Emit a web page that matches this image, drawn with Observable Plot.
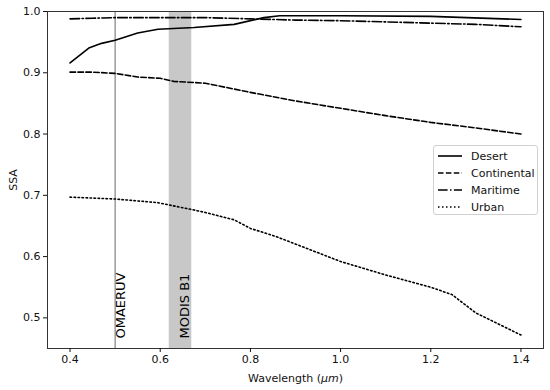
<!DOCTYPE html>
<html><head><meta charset="utf-8">
<script src="https://cdn.jsdelivr.net/npm/d3@7"></script>
<script src="https://cdn.jsdelivr.net/npm/@observablehq/plot@0.6"></script>
<style>
body{margin:0;background:#fff;font-family:"DejaVu Sans",sans-serif;}
#wrap{position:relative;width:550px;height:390px;}
#legend{position:absolute;left:433px;top:145px;width:103px;height:68px;border:1px solid #d0d0d0;border-radius:3px;background:#fff;font-size:11px;color:#111;}
#legend .row{position:absolute;left:4px;height:16px;display:flex;align-items:center;}
#legend svg{margin-right:9px;}
</style></head>
<body><div id="wrap"><div id="chart"></div><div id="legend"></div></div>
<script>
const desertX = [0.40,0.443,0.47,0.50,0.55,0.595,0.675,0.764,0.83,0.865,1.0,1.2,1.4];
const desertY = [0.916,0.941,0.948,0.953,0.965,0.971,0.974,0.979,0.990,0.993,0.993,0.992,0.987];
const contX = [0.40,0.45,0.50,0.55,0.60,0.63,0.675,0.70,0.80,0.90,1.0,1.1,1.2,1.3,1.4];
const contY = [0.901,0.901,0.899,0.893,0.891,0.886,0.884,0.883,0.868,0.854,0.842,0.830,0.819,0.810,0.800];
const marX = [0.40,0.45,0.50,0.60,0.70,0.80,0.90,1.0,1.1,1.2,1.3,1.4];
const marY = [0.988,0.989,0.990,0.990,0.990,0.988,0.986,0.985,0.983,0.981,0.979,0.975];
const urbX = [0.40,0.50,0.595,0.675,0.70,0.764,0.80,0.856,1.0,1.1,1.2,1.247,1.30,1.4];
const urbY = [0.697,0.694,0.688,0.676,0.672,0.660,0.646,0.633,0.592,0.570,0.550,0.538,0.508,0.472];
const seriesNames = ["Desert","Continental","Maritime","Urban"];
const dashes = [null,"5.5,2.4","9.6,2.4,1.5,2.4","1.5,2.5"];
const omaeruv = [0.5];
const modisBand = [{x1:0.62,x2:0.67}];
const xTicks = [0.4,0.6,0.8,1.0,1.2,1.4];
const yTicks = [0.5,0.6,0.7,0.8,0.9,1.0];

const seriesX = [desertX,contX,marX,urbX];
const seriesY = [desertY,contY,marY,urbY];
const toRows = i => seriesX[i].map((x,j)=>({x,y:seriesY[i][j]}));

const lineMarks = seriesNames.map((n,i)=>Plot.line(toRows(i),{x:"x",y:"y",stroke:"#000",strokeWidth:1.6,strokeDasharray:dashes[i]}));

const chart = Plot.plot({
  width:550,height:390,
  marginLeft:47,marginRight:7,marginTop:11,marginBottom:42,
  style:{fontFamily:"DejaVu Sans",fontSize:"11px",color:"#111",background:"#fff"},
  x:{domain:[0.35,1.45],ticks:xTicks,tickFormat:d3.format(".1f"),label:null},
  y:{domain:[0.45,1.0],ticks:yTicks,tickFormat:d3.format(".1f"),label:null},
  marks:[
    Plot.rectX(modisBand,{x1:"x1",x2:"x2",fill:"#c8c8c8"}),
    Plot.ruleX(omaeruv,{stroke:"#808080",strokeWidth:1.2}),
    ...lineMarks,
    Plot.text(omaeruv,{x:d=>d,text:()=>"OMAERUV",frameAnchor:"bottom",rotate:-90,textAnchor:"start",lineAnchor:"top",dx:1,dy:-10,fontSize:13,fill:"#000"}),
    Plot.text(modisBand,{x:d=>(d.x1+d.x2)/2,text:()=>"MODIS B1",frameAnchor:"bottom",rotate:-90,textAnchor:"start",lineAnchor:"middle",dx:4,dy:-10,fontSize:13,fill:"#000"}),
    Plot.frame({stroke:"#333",strokeWidth:1}),
    Plot.axisX({ticks:xTicks,tickFormat:d3.format(".1f"),tickSize:4,tickPadding:3,fontSize:11,label:"Wavelength (μm)",labelAnchor:"center",labelArrow:"none",labelOffset:33}),
    Plot.axisY({ticks:yTicks,tickFormat:d3.format(".1f"),tickSize:4,tickPadding:3,fontSize:11,label:"SSA",labelAnchor:"center",labelArrow:"none",labelOffset:38})
  ]
});
document.getElementById("chart").appendChild(chart);

// italic μm in x label
chart.querySelectorAll("text").forEach(t=>{
  if(t.textContent==="Wavelength (μm)"){
    t.textContent="";
    const ns="http://www.w3.org/2000/svg";
    const a=document.createElementNS(ns,"tspan");a.textContent="Wavelength (";
    const b=document.createElementNS(ns,"tspan");b.textContent="μm";b.setAttribute("font-style","italic");
    const c=document.createElementNS(ns,"tspan");c.textContent=")";
    t.append(a,b,c);
  }
});

const lg=document.getElementById("legend");
seriesNames.forEach((n,i)=>{
  const r=document.createElement("div");r.className="row";r.style.top=(2+i*17)+"px";
  r.innerHTML=`<svg width="24" height="10"><line x1="0" x2="24" y1="5" y2="5" stroke="#000" stroke-width="1.6" ${dashes[i]?`stroke-dasharray="${dashes[i]}"`:""}/></svg><span>${n}</span>`;
  lg.appendChild(r);
});
</script></body></html>
